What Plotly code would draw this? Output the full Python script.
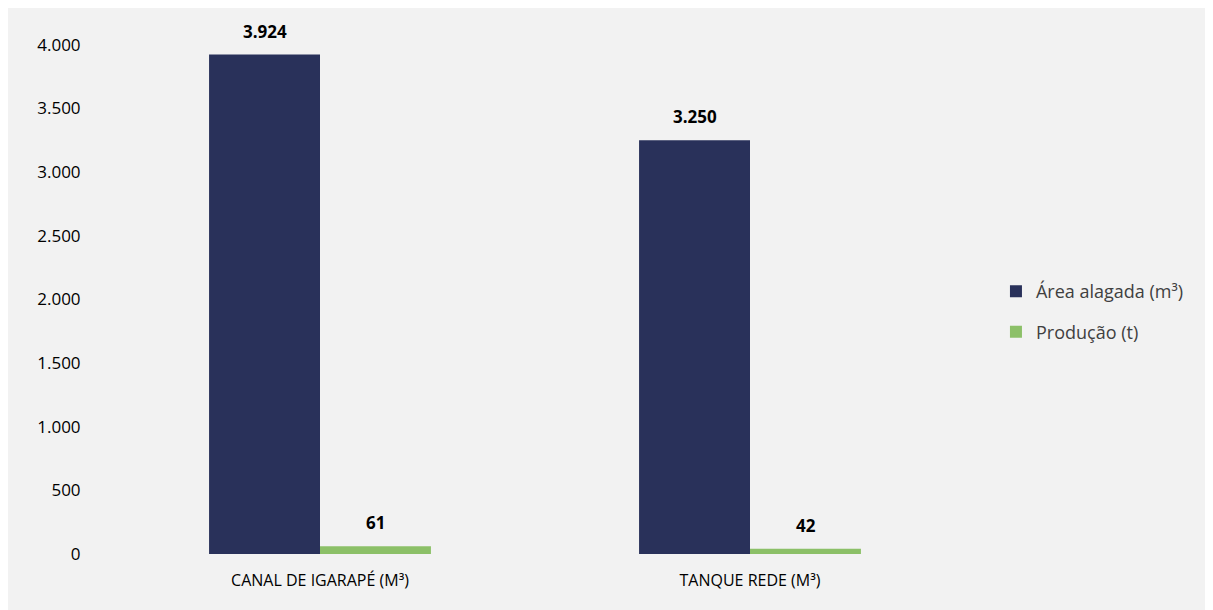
import plotly.graph_objects as go

categories = ["CANAL DE IGARAPÉ (M³)", "TANQUE REDE (M³)"]
area_alagada = [3924, 3250]
producao = [61, 42]
series_names = ["Área alagada (m³)", "Produção (t)"]
colors = ["#29315A", "#8CC068"]
y_ticks = [0, 500, 1000, 1500, 2000, 2500, 3000, 3500, 4000]


def fmt(v):
    return f"{v:,}".replace(",", ".")


fig = go.Figure()
for i, (name, vals) in enumerate(zip(series_names, [area_alagada, producao])):
    fig.add_trace(go.Bar(
        x=categories, y=vals, name=name,
        marker=dict(color=colors[i], line=dict(width=0)),
        legendgroup=f"g{i}",
    ))

annotations = []
for i, vals in enumerate([area_alagada, producao]):
    for c, v in zip(categories, vals):
        annotations.append(dict(
            x=c, y=v, xref="x", yref="y", text=f"<b>{fmt(v)}</b>",
            showarrow=False, xshift=(-55.5 if i == 0 else 55.5), yshift=10,
            yanchor="bottom", font=dict(size=17, color="#000000", family="Open Sans"),
        ))

fig.update_layout(
    width=1213, height=610,
    paper_bgcolor="#F2F2F2", plot_bgcolor="#F2F2F2",
    barmode="group", bargap=0.484, bargroupgap=0,
    separators=",.",
    margin=dict(l=97, r=256, t=5, b=64),
    font=dict(family="Open Sans", color="#000000"),
    showlegend=True,
    legend=dict(x=1.036, y=0.448, xanchor="left", yanchor="middle",
                font=dict(size=18, color="#404040"), tracegroupgap=14,
                bgcolor="rgba(0,0,0,0)", itemwidth=30),
    annotations=annotations,
)
fig.update_xaxes(showgrid=False, showline=False, ticks="outside", ticklen=12,
                 tickcolor="rgba(0,0,0,0)", tickfont=dict(size=16, color="#000000"))
fig.update_yaxes(range=[0, 4250], tickvals=y_ticks, tickformat=",d", showgrid=False,
                 zeroline=False, showline=False, ticks="outside", ticklen=20,
                 tickcolor="rgba(0,0,0,0)", tickfont=dict(size=17, color="#000000"))

fig.write_html("out.html")
